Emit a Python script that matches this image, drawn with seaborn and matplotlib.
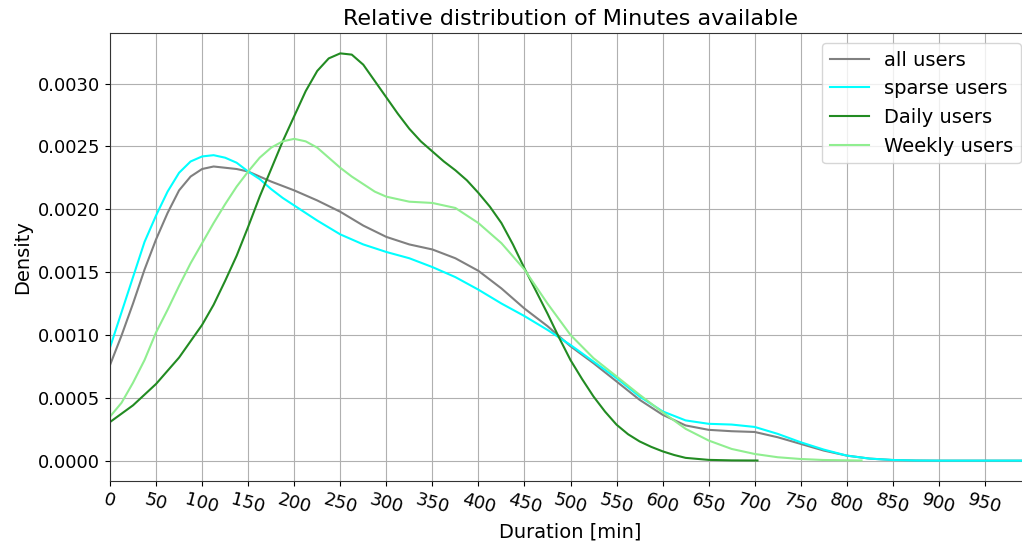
import matplotlib
matplotlib.use("Agg")
import matplotlib.pyplot as plt
import seaborn as sns
import pandas as pd

# ---- data ----
series_names = ["all users", "sparse users", "Daily users", "Weekly users"]
series_colors = ["grey", "cyan", "forestgreen", "lightgreen"]

all_x = [0, 12.5, 25, 37.5, 50, 62.5, 75, 87.5, 100, 112.5, 125, 137.5, 150, 175,
         200, 225, 250, 275, 300, 325, 350, 375, 400, 425, 450, 475, 500, 525, 550,
         575, 600, 625, 650, 675, 700, 725, 750, 775, 800, 825, 850, 875, 900, 950,
         1000]
all_y = [0.00076, 0.000995, 0.00125, 0.00152, 0.00176, 0.00197, 0.00215, 0.00226,
         0.00232, 0.00234, 0.00233, 0.00232, 0.0023, 0.00222, 0.00215, 0.00207,
         0.00198, 0.00187, 0.00178, 0.00172, 0.00168, 0.00161, 0.00151, 0.00137,
         0.00121, 0.00107, 0.00091, 0.000775, 0.00063, 0.000484, 0.000365, 0.00028,
         0.000245, 0.000234, 0.000228, 0.000186, 0.000133, 0.00008, 0.00004,
         0.000016, 0.000005, 0.000001, 0.0, 0.0, 0.0]

sparse_x = [0, 12.5, 25, 37.5, 50, 62.5, 75, 87.5, 100, 112.5, 125, 137.5, 150,
            162.5, 175, 187.5, 200, 225, 250, 275, 300, 325, 350, 375, 400, 425,
            450, 475, 500, 525, 550, 575, 600, 625, 650, 675, 700, 725, 750, 775,
            800, 825, 850, 875, 900, 950, 1000]
sparse_y = [0.0009, 0.00118, 0.00146, 0.00174, 0.00195, 0.00214, 0.00229, 0.00238,
            0.00242, 0.00243, 0.00241, 0.00237, 0.0023, 0.00224, 0.00216, 0.00209,
            0.00203, 0.00191, 0.0018, 0.00172, 0.00166, 0.00161, 0.00154, 0.00146,
            0.00136, 0.00125, 0.00115, 0.00104, 0.00092, 0.000788, 0.000656,
            0.00051, 0.000392, 0.00032, 0.000293, 0.000287, 0.000268, 0.000213,
            0.000146, 0.000088, 0.00004, 0.000016, 0.000005, 0.000001, 0.0, 0.0, 0.0]

daily_x = [0, 25, 50, 75, 100, 112.5, 125, 137.5, 150, 162.5, 175, 187.5, 200,
           212.5, 225, 237.5, 250, 262.5, 275, 287.5, 300, 312.5, 325, 337.5, 350,
           362.5, 375, 387.5, 400, 412.5, 425, 437.5, 450, 462.5, 475, 487.5, 500,
           512.5, 525, 537.5, 550, 562.5, 575, 587.5, 600, 612.5, 625, 650, 675, 703]
daily_y = [0.000307, 0.00044, 0.00061, 0.00082, 0.00108, 0.00124, 0.00143, 0.00163,
           0.00186, 0.0021, 0.00232, 0.00254, 0.00274, 0.00294, 0.0031, 0.0032,
           0.00324, 0.00323, 0.00315, 0.00302, 0.00289, 0.00276, 0.00264, 0.00254,
           0.00246, 0.00238, 0.00231, 0.00223, 0.00213, 0.00202, 0.00189, 0.00172,
           0.00153, 0.00135, 0.00117, 0.00098, 0.0008, 0.00065, 0.00051, 0.00039,
           0.000286, 0.00021, 0.000153, 0.00011, 0.000074, 0.000045, 0.000022,
           0.000006, 0.000002, 0.000001]

weekly_x = [0, 12.5, 25, 37.5, 50, 62.5, 75, 87.5, 100, 112.5, 125, 137.5, 150,
            162.5, 175, 187.5, 200, 212.5, 225, 237.5, 250, 262.5, 275, 287.5, 300,
            312.5, 325, 350, 375, 400, 425, 450, 475, 500, 525, 550, 575, 600, 625,
            650, 675, 700, 725, 750, 775, 816]
weekly_y = [0.00035, 0.00046, 0.00062, 0.0008, 0.00102, 0.0012, 0.00139, 0.00157,
            0.00173, 0.00189, 0.00204, 0.00218, 0.0023, 0.00241, 0.00249, 0.00254,
            0.00256, 0.00254, 0.00249, 0.00241, 0.00233, 0.00226, 0.0022, 0.00214,
            0.0021, 0.00208, 0.00206, 0.00205, 0.00201, 0.00189, 0.00173, 0.00152,
            0.00125, 0.001, 0.000815, 0.00067, 0.000524, 0.000385, 0.000253,
            0.00016, 0.000093, 0.000053, 0.000027, 0.000013, 0.000005, 0.000001]

xtick_values = list(range(0, 1000, 50))

# ---- build long table ----
frames = []
for name, xs, ys in zip(series_names,
                        [all_x, sparse_x, daily_x, weekly_x],
                        [all_y, sparse_y, daily_y, weekly_y]):
    frames.append(pd.DataFrame({"Duration": xs, "Density": ys, "group": name}))
df = pd.concat(frames, ignore_index=True)

fig = plt.figure(figsize=(10.22, 5.46), dpi=100)
# the original axes extends slightly past the right edge of the image
ax = fig.add_axes([110 / 1022, 1 - 481 / 546, 921 / 1022, 448 / 546])

sns.lineplot(data=df, x="Duration", y="Density", hue="group",
             hue_order=series_names, palette=dict(zip(series_names, series_colors)),
             linewidth=1.5, ax=ax, sort=True, estimator=None)

ax.set_xlim(0, 1000)
ax.set_xticks(xtick_values)
ax.set_xticklabels([str(v) for v in xtick_values], rotation=-15, fontsize=13)
ax.tick_params(axis="y", labelsize=13)
ax.grid(True, color="#b0b0b0", linewidth=0.8)
ax.set_axisbelow(True)
ax.set_title("Relative distribution of Minutes available", fontsize=16)
ax.set_xlabel("Duration [min]", fontsize=14)
ax.set_ylabel("Density", fontsize=14)
ax.legend(loc="upper right", fontsize=14)
for sp in ax.spines.values():
    sp.set_color("#333333")

fig.savefig("out.png", dpi=100)
